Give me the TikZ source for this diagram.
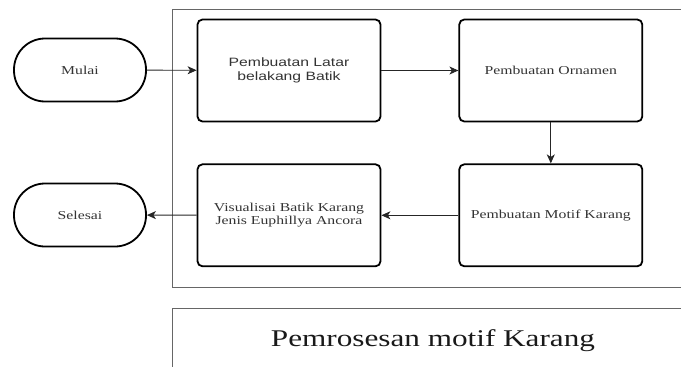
\documentclass[tikz,border=0pt]{standalone}
\usepackage{fontspec}
\newfontfamily\flowserif{Liberation Serif}[FakeStretch=1.3]
\newfontfamily\flowsans{Liberation Sans}[FakeStretch=1.3]
\usetikzlibrary{arrows.meta, positioning}

\begin{document}
\begin{tikzpicture}[
    x=1pt, y=1pt,
    node distance=77pt,
    sbox/.style={rectangle, draw=black, line width=1.8pt, rounded corners=5pt,
                 minimum width=183pt, minimum height=102pt,
                 align=center, text=black!80,
                 font=\flowserif\fontsize{12.1}{13.5}\selectfont},
    term/.style={rectangle, draw=black, line width=1.8pt, rounded corners=31pt,
                 minimum width=132pt, minimum height=63pt,
                 align=center, text=black!80,
                 font=\flowserif\fontsize{12.1}{13.5}\selectfont},
    frame/.style={draw=black!60, line width=0.9pt},
    arr/.style={-{Stealth[length=9pt, width=8pt, inset=2.5pt]}, line width=0.9pt, black!85},
  ]
    \useasboundingbox (0,0) rectangle (681,-367);
    \clip (0,0) rectangle (681,-367);

    % frames
    \draw[frame] (172,-9) rectangle (700,-287);
    \draw[frame] (172,-308) rectangle (700,-390);
    \node[text=black!90, font=\flowserif\fontsize{24}{28}\selectfont,
          anchor=base] (judul) at (433,-346) {Pemrosesan motif Karang};

    % steps
    \node[sbox, font=\flowsans\fontsize{12.1}{14.3}\selectfont] (latar) at (289,-70.5)
                                           {Pembuatan Latar\\belakang Batik};
    \node[sbox, right=of latar]            (ornamen) {Pembuatan Ornamen};
    \node[sbox, below=41pt of ornamen]     (motif)   {Pembuatan Motif Karang};
    \node[sbox, left=of motif]             (visual)  {Visualisai Batik Karang\\
                                                      Jenis Euphillya Ancora};

    % start / end
    \node[term] (mulai)   at (80,-70)  {Mulai};
    \node[term] (selesai) at (80,-215) {Selesai};

    \draw[arr] (mulai)   -- (latar);
    \draw[arr] (latar)   -- (ornamen);
    \draw[arr] (ornamen) -- (motif);
    \draw[arr] (motif)   -- (visual);
    \draw[arr] (visual)  -- (selesai);
\end{tikzpicture}
\end{document}
